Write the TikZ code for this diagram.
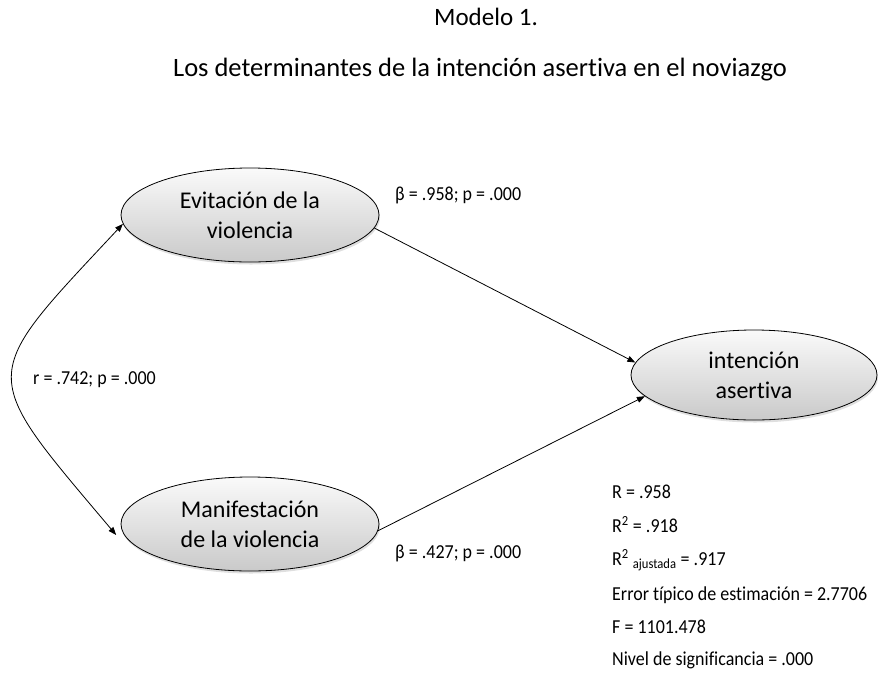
\documentclass[tikz,border=0pt]{standalone}
\usepackage{fontspec}
\setmainfont{Carlito}[Ligatures=NoCommon]
\usetikzlibrary{arrows.meta,shadows,shapes.geometric}
\newcommand{\tallx}[1]{\scalebox{1}[1.1]{#1}}
\begin{document}
\begin{tikzpicture}[x=1pt,y=-1pt,
  oval/.style={ellipse, draw=black, line width=0.8pt, top color=gray!4, bottom color=gray!42,
    minimum width=258pt, minimum height=94pt, inner sep=0pt, align=center,
    font=\fontsize{24}{30}\selectfont,
    drop shadow={opacity=0.25, shadow xshift=1pt, shadow yshift=-2.5pt}},
  lab/.style={anchor=west, font=\fontsize{18}{22}\selectfont, inner sep=0pt},
  ttl/.style={font=\fontsize{25}{30}\selectfont, inner sep=0pt},
  tip/.tip={Triangle[length=8pt,width=6pt]},
  arr/.style={-tip, line width=0.8pt},
  dbl/.style={tip-tip, line width=0.8pt},
]
\useasboundingbox (0,0) rectangle (879,673);

\node[ttl] (t1) at (486,17) {Modelo 1.};
\node[ttl, font=\fontsize{26.5}{30}\selectfont] (t2) at (480,70) {Los determinantes de la intención asertiva en el noviazgo};

\node[oval] (e1) at (250,215) {Evitación de la\\violencia};
\node[oval] (e2) at (250,524) {Manifestación\\de la violencia};
\node[oval, minimum width=246pt, minimum height=90pt] (e3) at (754,375) {intención\\asertiva};

\draw[arr] (e1.-6) -- (e3.174);
\draw[arr] (e2.-3) -- (e3.191);
\draw[dbl] (e1.184) .. controls (-23,380) and (-23,370) .. ([xshift=-8pt]e2.185);

\node[lab] (b1) at (395,195) {\tallx{β = .958; p = .000}};
\node[lab] (b2) at (395,553) {\tallx{β = .427; p = .000}};
\node[lab] (r) at (33,380) {\tallx{r = .742; p = .000}};

\node[lab] (s1) at (612,492) {\tallx{R = .958}};
\node[lab] (s2) at (612,525) {\tallx{R\textsuperscript{2} = .918}};
\node[lab] (s3) at (612,560) {\tallx{R\textsuperscript{2} \textsubscript{ajustada} = .917}};
\node[lab] (s4) at (612,595) {\tallx{Error típico de estimación = 2.7706}};
\node[lab] (s5) at (612,627) {\tallx{F = 1101.478}};
\node[lab] (s6) at (612,660) {\tallx{Nivel de significancia = .000}};
\end{tikzpicture}
\end{document}
